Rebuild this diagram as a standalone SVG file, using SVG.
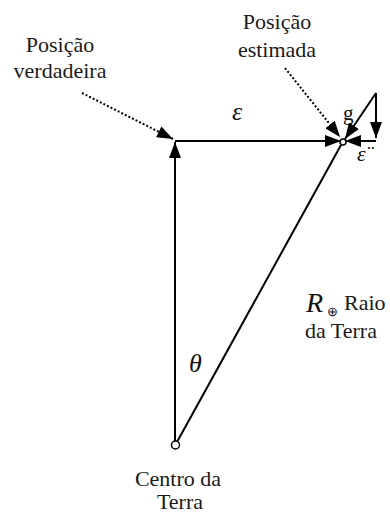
<svg xmlns="http://www.w3.org/2000/svg" width="390" height="514" viewBox="0 0 390 514">
<defs>
<marker id="ah" markerUnits="userSpaceOnUse" markerWidth="16" markerHeight="12" refX="16" refY="6" orient="auto"><path d="M0,0 L16,6 L0,12 z" fill="#000"/></marker>
</defs>
<rect width="390" height="514" fill="#fff"/>
<g id="connectors" stroke="#000" stroke-width="2" fill="none">
<line x1="175" y1="441" x2="175" y2="142" marker-end="url(#ah)"/>
<line x1="175" y1="141" x2="341" y2="141" marker-end="url(#ah)"/>
<line x1="177" y1="442" x2="341" y2="145"/>
<line x1="376" y1="93" x2="345" y2="139" marker-end="url(#ah)"/>
<line x1="376" y1="93" x2="376" y2="138" marker-end="url(#ah)"/>
<line x1="376" y1="141" x2="345" y2="141" marker-end="url(#ah)"/>
<g stroke-dasharray="2 2">
<line x1="82" y1="93" x2="173" y2="139" marker-end="url(#ah)"/>
<line x1="285" y1="68" x2="340" y2="137" marker-end="url(#ah)"/>
</g>
</g>
<g id="centro">
<circle cx="175.5" cy="445" r="4" fill="#fff" stroke="#000" stroke-width="1.5"/>
<text x="178" y="486" font-family="Liberation Serif" font-size="22" fill="#1a1a1a" text-anchor="middle">Centro da</text>
<text x="180" y="509" font-family="Liberation Serif" font-size="22" fill="#1a1a1a" text-anchor="middle">Terra</text>
</g>
<g id="estimada">
<circle cx="343" cy="142" r="3" fill="#fff" stroke="#000" stroke-width="1.5"/>
<text x="277" y="29" font-family="Liberation Serif" font-size="22" fill="#1a1a1a" text-anchor="middle">Posição</text>
<text x="277" y="57" font-family="Liberation Serif" font-size="22" fill="#1a1a1a" text-anchor="middle">estimada</text>
</g>
<g id="verdadeira">
<text x="60" y="52" font-family="Liberation Serif" font-size="22" fill="#1a1a1a" text-anchor="middle">Posição</text>
<text x="60" y="78" font-family="Liberation Serif" font-size="22" fill="#1a1a1a" text-anchor="middle">verdadeira</text>
</g>
<g id="labels">
<text x="232" y="120" font-family="Liberation Serif" font-size="26" font-style="italic" fill="#111">ε</text>
<text x="343" y="120" font-family="Liberation Serif" font-size="21" fill="#111">g</text>
<text x="357" y="161" font-family="Liberation Serif" font-size="22" font-style="italic" fill="#111">ε̈</text>
<text x="189" y="372" font-family="Liberation Serif" font-size="26" font-style="italic" fill="#111">θ</text>
<text x="306" y="312" font-family="Liberation Serif" font-size="28" font-style="italic" fill="#111">R</text>
<text x="327" y="316" font-family="Liberation Serif" font-size="13" fill="#111">⊕</text>
<text x="344" y="310" font-family="Liberation Serif" font-size="22" fill="#1a1a1a">Raio</text>
<text x="305" y="338" font-family="Liberation Serif" font-size="22" fill="#1a1a1a">da Terra</text>
</g>
</svg>
